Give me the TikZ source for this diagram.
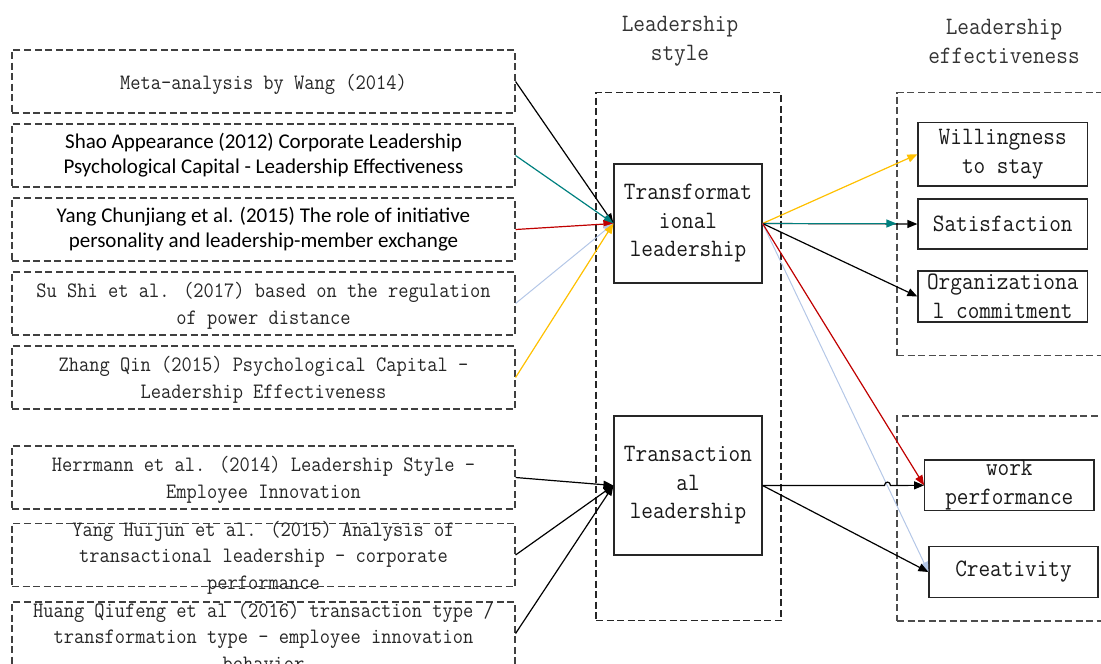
\documentclass[tikz,border=0pt]{standalone}
\usepackage{fontspec}
\newfontfamily\songti[FakeStretch=0.904]{Latin Modern Mono}
\newfontfamily\calibri{Carlito}
\usetikzlibrary{arrows.meta}
\definecolor{linkteal}{HTML}{00807F}
\definecolor{linkgold}{HTML}{FFC000}
\definecolor{linkred}{HTML}{C00000}
\definecolor{linkblue}{HTML}{B4C7E7}
\begin{document}
\begin{tikzpicture}[x=1pt,y=-1pt,
		refbox/.style={draw=black!75,dash pattern=on 7pt off 3.5pt,line width=1.1pt,minimum width=503pt,minimum height=63pt,inner sep=0pt},
		reftext/.style={align=center,inner sep=0pt,yshift=-2.5pt,font=\songti\fontsize{22}{26.5}\selectfont,text=black!85},
		groupbox/.style={draw=black!85,dash pattern=on 7pt off 3.5pt,line width=1.1pt,inner sep=0pt},
		head/.style={align=center,yshift=-2.5pt,font=\songti\fontsize{25}{29}\selectfont,text=black!80},
		stylebox/.style={draw=black!85,line width=1.2pt,align=center,inner sep=0pt,font=\songti\fontsize{25}{28.5}\selectfont,text=black!90},
		arr/.style={line width=1.2pt,-{Triangle[length=10pt,width=8pt]}}]
		\useasboundingbox (0,0) rectangle (1101,664);
		\node [groupbox,minimum width=185pt,minimum height=528pt] at (688.5,356.5) (stylegrp) {};
		\node [groupbox,draw=black!70,minimum width=213pt,minimum height=263pt] at (1003.5,224) (effup) {};
		\node [groupbox,draw=black!70,minimum width=213pt,minimum height=205pt] at (1003.5,518.5) (efflow) {};
		\node [head] at (680,38.5) (hstyle) {Leadership\\style};
		\node [head] at (1004,38.5) (heff) {Leadership\\effectiveness};
		\node [stylebox,minimum width=148pt,minimum height=119pt] at (688,223.5) (tf) {Transformat\\ional\\leadership};
		\node [stylebox,minimum width=148pt,minimum height=139pt] at (688,485.5) (ta) {Transaction\\al\\leadership};
		\node [stylebox,minimum width=169.5pt,minimum height=63.3pt] at (1002.75,154.3) (will) {Willingness\\to stay};
		\node [stylebox,minimum width=169.5pt,minimum height=50pt] at (1002.75,224) (sat) {Satisfaction};
		\node [stylebox,minimum width=169.5pt,minimum height=51pt] at (1002.75,296.5) (org) {Organizationa\\l commitment};
		\node [stylebox,minimum width=169.3pt,minimum height=50.7pt] at (1009.3,485.3) (work) {work\\performance};
		\node [stylebox,minimum width=169pt,minimum height=50.3pt] at (1013.5,572) (crea) {Creativity};
		\node [refbox] at (263.5,81.5) (r1) {};
		\node [reftext] at (r1) (r1t) {Meta-analysis by Wang (2014)};
		\node [refbox] at (263.5,155.5) (r2) {};
		\node [reftext,yshift=2.5pt,font=\calibri\fontsize{21}{25}\selectfont,text=black] at (r2) (r2t) {Shao Appearance (2012) Corporate Leadership\\Psychological Capital - Leadership Effectiveness};
		\node [refbox] at (263.5,229.5) (r3) {};
		\node [reftext,yshift=2.5pt,font=\calibri\fontsize{21}{25}\selectfont,text=black] at (r3) (r3t) {Yang Chunjiang et al. (2015) The role of initiative\\personality and leadership-member exchange};
		\node [refbox] at (263.5,303.5) (r4) {};
		\node [reftext] at (r4) (r4t) {Su Shi et al. (2017) based on the regulation\\of power distance};
		\node [refbox] at (263.5,377.5) (r5) {};
		\node [reftext] at (r5) (r5t) {Zhang Qin (2015) Psychological Capital -\\Leadership Effectiveness};
		\node [refbox] at (263.5,477.5) (r6) {};
		\node [reftext] at (r6) (r6t) {Herrmann et al. (2014) Leadership Style -\\Employee Innovation};
		\node [refbox] at (263.5,555) (r7) {};
		\node [reftext] at (r7) (r7t) {Yang Huijun et al. (2015) Analysis of\\transactional leadership - corporate\\performance};
		\node [refbox] at (263.5,633.5) (r8) {};
		\node [reftext] at (r8) (r8t) {Huang Qiufeng et al (2016) transaction type /\\transformation type - employee innovation\\behavior};
		\draw [arr] (r1.east) -- (tf.west);
		\draw [arr,linkteal] (r2.east) -- (tf.west);
		\draw [arr,linkred] (r3.east) -- (tf.west);
		\draw [arr,linkblue,line width=1pt] (r4.east) -- (tf.west);
		\draw [arr,linkgold] (r5.east) -- (tf.west);
		\draw [arr] (r6.east) -- (ta.west);
		\draw [arr] (r7.east) -- (ta.west);
		\draw [arr] (r8.east) -- (ta.west);
		\draw [arr,linkgold] (tf.east) -- (will.west);
		\draw [arr] (tf.east) -- (sat.west);
		\draw [arr,linkteal] (tf.east) -- (tf.east -| effup.west);
		\draw [arr] (tf.east) -- (org.west);
		\draw [arr,linkblue,line width=1pt] (tf.east) -- (crea.west);
		\draw [arr,linkred] (tf.east) -- (work.west);
		\draw [arr] (ta.east) -- (crea.west);
		\coordinate (hop) at (887.5,485.5);
		\draw [arr] (ta.east) -- ([xshift=-3pt]hop) .. controls ([xshift=-3pt,yshift=4.5pt]hop) and ([xshift=3pt,yshift=4.5pt]hop) .. ([xshift=3pt]hop) -- (work.west);
	\end{tikzpicture}
\end{document}
